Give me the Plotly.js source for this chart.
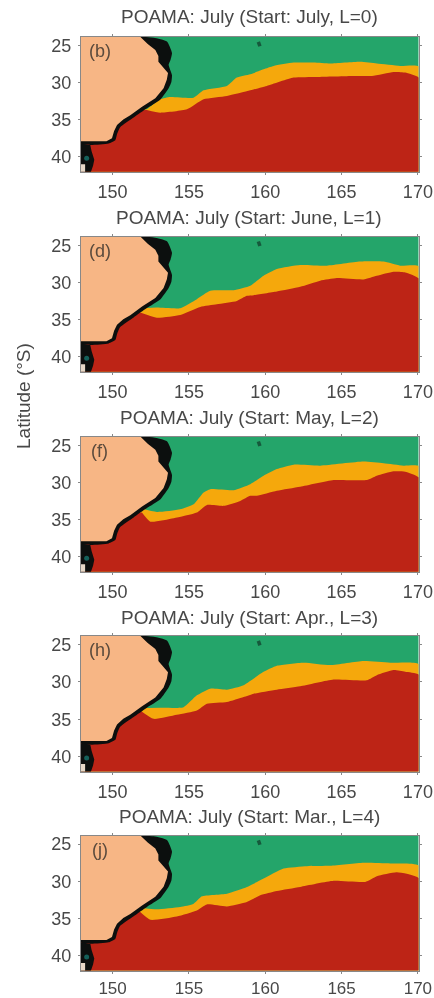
<!DOCTYPE html>
<html>
<head>
<meta charset="utf-8">
<script src="https://cdn.plot.ly/plotly-3.0.1.min.js"></script>
<style>html,body{margin:0;padding:0;background:#fff}#chart{width:434px;height:998px;filter:blur(0.6px)}</style>
</head>
<body>
<div id="chart"></div>
<script>
var titles = ['POAMA: July (Start: July, L=0)','POAMA: July (Start: June, L=1)','POAMA: July (Start: May, L=2)','POAMA: July (Start: Apr., L=3)','POAMA: July (Start: Mar., L=4)'];
var letters = ['(b)','(d)','(f)','(h)','(j)'];
var lonTicks = [150,155,160,165,170];
var latTicks = [25,30,35,40];

var landLon = [151.8,152.3,152.8,153.0,153.0,153.3,153.63,153.55,153.34,152.8,152.35,151.93,151.16,150.7,150.29,150.1,149.96,149.6,147.9,147.9];
var landLat = [23.8,24.8,25.6,26.4,27.2,27.9,28.7,29.6,30.75,32.1,32.7,33.25,34.4,34.95,35.7,36.5,37.5,37.9,37.9,23.8];
var coastLon = [151.8,152.7,153.56,153.89,153.8,153.67,153.89,153.85,153.67,153.12,152.25,151.38,150.5,150.3,150.18,149.74,148.54,147.9,147.9];
var coastLat = [23.8,23.95,24.46,26.0,26.9,27.6,29.0,29.9,30.75,32.3,33.45,34.7,36.0,36.9,37.75,38.2,38.4,38.2,23.8];
var tasLon = [147.9,148.54,148.62,148.8,148.72,148.55,147.9];
var tasLat = [38.2,38.4,39.2,40.4,41.2,42.2,42.2];
var tasGapLon = [147.9,148.2,148.2,147.9];
var tasGapLat = [41,41,42.2,42.2];
var tasPondLon = [148.3];
var tasPondLat = [40.2];
var islandLon = [159.55,159.65];
var islandLat = [24.5,25.1];

var orangeLon0 = [152.25,153.12,153.78,155.31,155.96,157.49,158.14,159.02,159.89,160.55,161.86,163.17,164.26,166.22,167.31,168.84,170.1];
var orangeLat0 = [33.6,32.25,31.94,32.03,31.04,30.45,29.32,28.87,28.2,27.75,27.3,27.3,27.43,27.2,27.43,27.75,27.84];
var redLon0 = [152.25,153.12,154.87,155.96,157.49,159.02,160.11,161.86,163.38,165.79,166.99,168.41,169.17,170.1];
var redLat0 = [33.69,34.05,33.6,32.25,31.8,31.04,30.45,29.32,29.23,29.1,29.1,28.56,28.65,29.41];

var orangeLon1 = [151.81,152.9,154.43,155.52,156.4,157.93,159.02,159.89,160.76,162.29,164.04,166.22,167.75,168.84,170.1];
var orangeLat1 = [33.51,33.38,33.47,32.25,31.13,31.04,30.45,29.1,28.2,27.66,27.75,27.2,27.2,27.75,27.84];
var redLon1 = [151.81,152.9,154.43,155.74,156.83,158.14,158.8,159.24,160.76,162.29,163.6,164.69,166.44,167.31,168.41,169.17,170.1];
var redLat1 = [34.05,34.73,34.37,33.29,32.93,32.48,31.8,31.71,31.22,30.59,29.77,29.41,29.59,29.1,28.56,28.65,29.55];

var orangeLon2 = [151.81,152.9,154.43,155.31,155.96,156.4,157.93,159.02,159.89,160.76,161.86,163.6,166.44,167.75,169.06,170.1];
var orangeLat2 = [33.47,33.96,33.6,32.93,31.35,30.9,31.04,30.23,29.1,28.2,27.61,27.75,27.2,27.43,27.75,27.84];
var redLon2 = [151.92,152.47,154.0,155.52,156.18,157.27,158.36,159.02,159.45,160.76,162.29,164.48,166.66,167.31,168.41,169.17,170.1];
var redLat2 = [34.05,35.27,34.82,34.05,33.02,33.15,32.48,31.8,31.8,31.13,30.59,29.68,29.68,29.1,28.51,28.56,29.41];

var orangeLon3 = [151.81,153.12,154.65,155.52,156.4,157.49,158.58,159.89,160.76,162.51,164.26,166.44,168.19,170.1];
var orangeLat3 = [33.51,33.47,33.38,31.8,30.9,31.04,30.45,28.65,27.84,27.43,27.75,27.2,27.43,27.66];
var redLon3 = [151.81,152.69,154.21,155.52,156.18,157.49,158.58,159.24,160.76,162.29,164.48,166.66,167.31,168.41,169.17,170.1];
var redLat3 = [33.83,34.95,34.41,33.83,32.93,32.7,32.03,31.58,31.04,30.59,29.68,29.77,29.1,28.42,28.65,29.1];

var orangeLon4 = [151.81,152.9,154.43,155.31,155.85,157.49,158.8,159.89,161.2,162.73,164.26,166.44,168.19,170.1];
var orangeLat4 = [33.56,33.78,33.47,33.02,32.03,31.67,30.77,29.64,28.29,27.97,27.93,27.52,27.61,27.93];
var redLon4 = [151.81,152.47,154.21,155.52,156.18,157.49,158.8,159.67,160.76,162.29,164.48,166.55,167.31,168.62,170.1];
var redLat4 = [34.14,35.18,34.73,33.92,33.11,33.38,32.79,31.89,31.31,30.77,29.95,30.09,29.32,28.78,29.64];

var orangeLons = [orangeLon0,orangeLon1,orangeLon2,orangeLon3,orangeLon4];
var orangeLats = [orangeLat0,orangeLat1,orangeLat2,orangeLat3,orangeLat4];
var redLons = [redLon0,redLon1,redLon2,redLon3,redLon4];
var redLats = [redLat0,redLat1,redLat2,redLat3,redLat4];

var GREEN='#24A56A', ORANGE='#F5A80C', RED='#BD2416', LAND='#F7B685', BLACK='#0c0f0e', TEXT='#484848', AXIS='#888888';
var panelTop = [37,236.7,436.7,636,835.5];
var panelBottom = [171.7,371.7,571.7,771.5,970.5];
var titleY = [17,217,417,617,816];
var W=434, H=998, X0=81, X1=418.5;
var FAMILY='Liberation Sans, Arial, sans-serif';

function poly(lon,lat,color,xa,ya,smooth){
  return {x:lon,y:lat,xaxis:xa,yaxis:ya,type:'scatter',mode:'lines',fill:'toself',fillcolor:color,
          line:smooth?{width:0,color:color,shape:'spline',smoothing:0.5}:{width:0,color:color},hoverinfo:'skip',showlegend:false};
}
function below(lon,lat){
  return {x:lon.concat([170.1,170.1,147.9,147.9]),y:lat.concat([42.3,42.3,42.3,lat[0]])};
}
var traces=[], layout={width:W,height:H,margin:{l:0,r:0,t:0,b:0},paper_bgcolor:'#fff',plot_bgcolor:GREEN,showlegend:false,
  font:{family:FAMILY,color:TEXT},annotations:[]};

titles.forEach(function(t,i){
  var n=i===0?'':String(i+1), xa='x'+n, ya='y'+n;
  var o=below(orangeLons[i],orangeLats[i]), r=below(redLons[i],redLats[i]);
  traces.push(poly(o.x,o.y,ORANGE,xa,ya,true));
  traces.push(poly(r.x,r.y,RED,xa,ya,true));
  traces.push(poly(coastLon,coastLat,BLACK,xa,ya,true));
  traces.push(poly(tasLon,tasLat,BLACK,xa,ya,false));
  traces.push(poly(tasGapLon,tasGapLat,'#e8d9c8',xa,ya,false));
  traces.push(poly(landLon,landLat,LAND,xa,ya,false));
  traces.push({x:tasPondLon,y:tasPondLat,xaxis:xa,yaxis:ya,type:'scatter',mode:'markers',marker:{size:5,color:'#14605a'},hoverinfo:'skip',showlegend:false});
  traces.push({x:islandLon,y:islandLat,xaxis:xa,yaxis:ya,type:'scatter',mode:'lines',line:{width:3.5,color:'#16593c'},hoverinfo:'skip',showlegend:false});
  var axisBase={showgrid:false,zeroline:false,showline:true,linecolor:AXIS,linewidth:1,mirror:'ticks',ticks:'outside',ticklen:2,tickwidth:1,tickcolor:AXIS};
  layout['xaxis'+n]=Object.assign({},axisBase,{anchor:ya,domain:[X0/W,X1/W],range:[147.93,170.04],tickmode:'array',tickvals:lonTicks,ticktext:lonTicks.map(String),ticklabelstandoff:i===4?0:2,tickfont:{size:i===4?17:18,color:TEXT,family:FAMILY}});
  layout['yaxis'+n]=Object.assign({},axisBase,{anchor:xa,domain:[1-panelBottom[i]/H,1-panelTop[i]/H],range:[42,23.85],tickmode:'array',tickvals:latTicks,ticktext:latTicks.map(String),ticklabelstandoff:3,tickfont:{size:18,color:TEXT,family:FAMILY}});
  layout.annotations.push({xref:'paper',yref:'paper',x:249/W,y:1-titleY[i]/H,text:t,showarrow:false,xanchor:'center',yanchor:'middle',font:{size:19,color:TEXT}});
  layout.annotations.push({xref:xa,yref:ya,x:149.15,y:25.75,text:letters[i],showarrow:false,xanchor:'center',yanchor:'middle',font:{size:18,color:'#5a4a3c'}});
});
layout.annotations.push({xref:'paper',yref:'paper',x:24/W,y:1-396/H,text:'Latitude (°S)',textangle:-90,showarrow:false,xanchor:'center',yanchor:'middle',font:{size:19,color:TEXT}});
Plotly.newPlot('chart',traces,layout,{displayModeBar:false,staticPlot:true});
</script>
</body>
</html>
